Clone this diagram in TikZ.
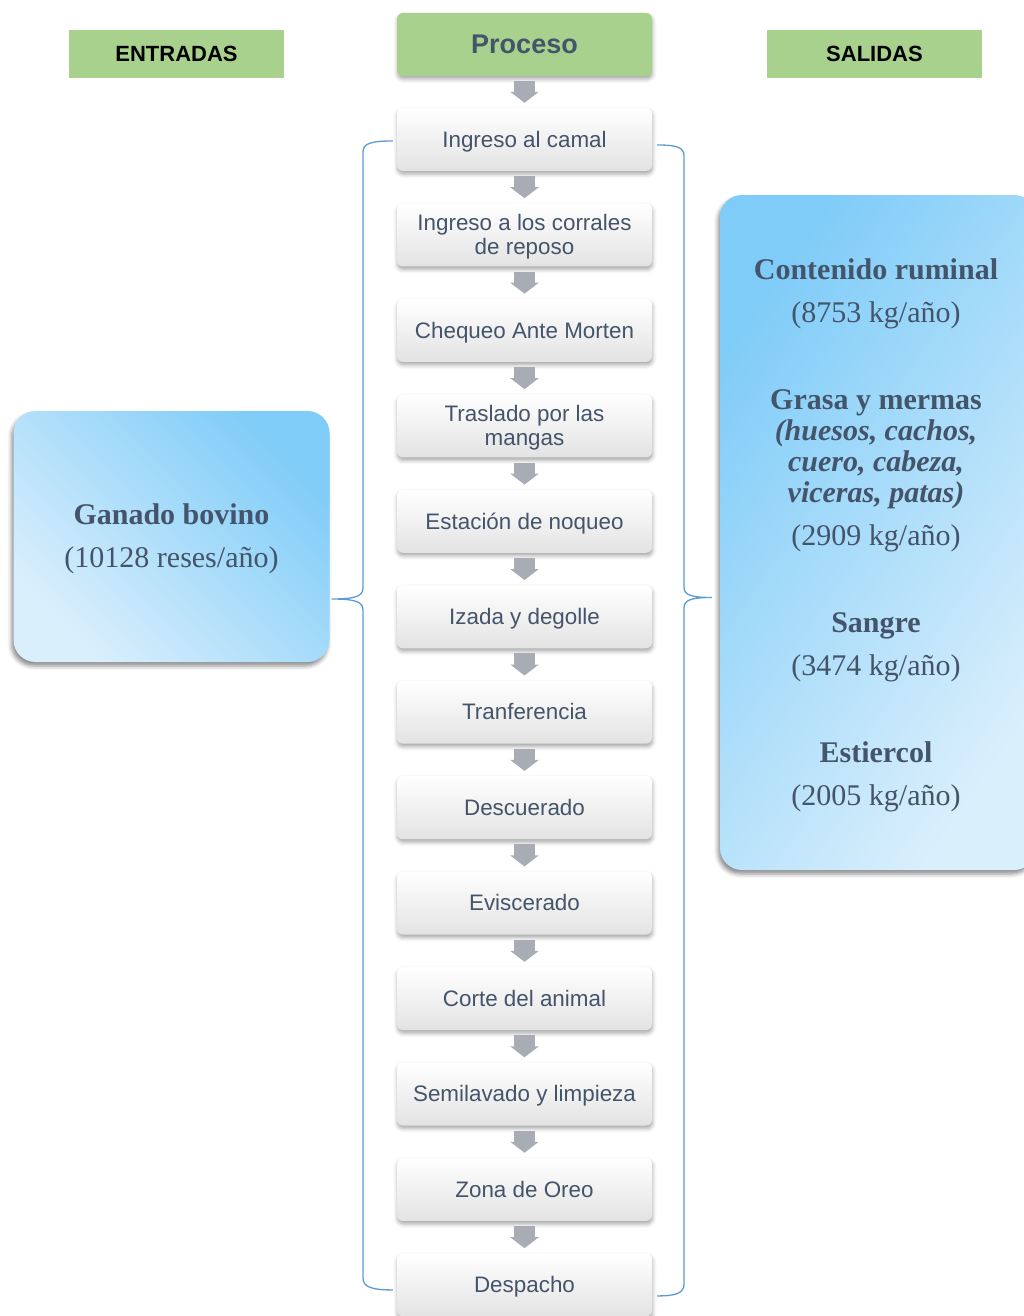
\documentclass[tikz,border=0pt]{standalone}
\usepackage{fontspec}
\setmainfont{Liberation Serif}
\setsansfont{Liberation Sans}
\usetikzlibrary{calc,arrows.meta,shadows.blur}

\definecolor{txt}{HTML}{44546A}
\definecolor{hdrgreen}{HTML}{A9D18E}
\definecolor{bracketblue}{HTML}{5B9BD5}
\definecolor{skydark}{HTML}{7FCCF8}
\definecolor{skylight}{HTML}{DAEFFC}
\definecolor{arrowgray}{HTML}{A8ACB5}

\begin{document}
\begin{tikzpicture}[x=1pt,y=-1pt,
  header/.style={fill=hdrgreen, minimum width=215pt, minimum height=48pt,
    inner sep=0pt, font=\sffamily\bfseries\fontsize{22}{24}\selectfont, text=black},
  procbox/.style={rounded corners=6pt, fill=hdrgreen, minimum width=255pt,
    minimum height=63pt, inner sep=0pt,
    font=\sffamily\bfseries\fontsize{27}{30}\selectfont, text=txt,
    blur shadow={shadow xshift=0.5pt, shadow yshift=-3pt, shadow blur radius=4pt, shadow opacity=35}},
  stage/.style={rounded corners=6pt, top color=white, middle color=white,
    bottom color=black!11, minimum width=255pt, minimum height=63pt,
    align=center, inner sep=0pt, text depth=4.6pt,
    font=\sffamily\fontsize{22.4}{23.5}\selectfont, text=txt,
    blur shadow={shadow xshift=0.5pt, shadow yshift=-3pt, shadow blur radius=4pt, shadow opacity=35}},
  bigbox/.style={rounded corners=22pt, top color=skydark, bottom color=skylight,
    minimum width=316pt, inner sep=0pt,
    blur shadow={shadow xshift=-2pt, shadow yshift=-4pt, shadow blur radius=4pt, shadow opacity=45}},
  bigtext/.style={font=\fontsize{30}{31}\selectfont, text=txt, align=center},
  flowarrow/.style={draw=arrowgray, line width=21pt, shorten <=5pt, shorten >=5pt,
    -{Triangle[length=11pt,width=28pt]}},
  bracket/.style={draw=bracketblue, line width=1.3pt}
]
\useasboundingbox (0,0) rectangle (1024,1316);

% input and output boxes
\node[bigbox, minimum height=251pt, shading angle=-45] (gb) at (171.5,536.5) {};
\node[bigtext] (gbtext) at (171.5,538.5)
  {\textbf{Ganado bovino}\\[12pt](10128 reses/año)};
\node[bigbox, minimum height=675pt, shading angle=55] (sal) at (878,532.5) {};
\node[bigtext] (saltext) at (876,535)
  {\textbf{Contenido ruminal}\\[12pt]
   (8753 kg/año)\\[56pt]
   \textbf{Grasa y mermas}\\
   \textbf{\textit{(huesos, cachos,}}\\
   \textbf{\textit{cuero, cabeza,}}\\
   \textbf{\textit{viceras, patas)}}\\[12pt]
   (2909 kg/año)\\[56pt]
   \textbf{Sangre}\\[12pt]
   (3474 kg/año)\\[56pt]
   \textbf{Estiercol}\\[12pt]
   (2005 kg/año)};

% column headers
\node[header] (entradas) at (176.5,54) {ENTRADAS};
\node[header] (salidas) at (874.5,54) {SALIDAS};
\node[procbox] (proc) at (524.5,44.5) {Proceso};

% process stages (second field: text height, so the lines sit centred)
\foreach \t/\th [count=\i] in {Ingreso al camal/20pt,
    {Ingreso a los corrales\\de reposo}/43.5pt,
    Chequeo Ante Morten/20pt, {Traslado por las\\mangas}/43.5pt,
    Estación de noqueo/20pt, Izada y degolle/20pt, Tranferencia/20pt,
    Descuerado/20pt, Eviscerado/20pt, Corte del animal/20pt,
    Semilavado y limpieza/20pt, Zona de Oreo/20pt, Despacho/20pt}
  \node[stage, text height=\th] (p\i) at (524.5,{139.5+95.45*(\i-1)}) {\t};

% flow arrows
\draw[flowarrow] (proc.south) -- (p1.north);
\foreach \i [evaluate=\i as \j using int(\i+1)] in {1,...,12}
  \draw[flowarrow] (p\i.south) -- (p\j.north);

% brackets joining inputs and outputs to the process column
\coordinate (lt) at ($(p1.west)+(-4,1.5)$);
\coordinate (lb) at ($(p13.west)+(-4,5)$);
\coordinate (ltip) at ($(gb.east)+(2,62.5)$);
\coordinate (rt) at ($(p1.east)+(5,5.5)$);
\coordinate (rb) at ($(p13.east)+(5,11)$);
\coordinate (rtip) at ($(sal.west)+(-8,65)$);

\draw[bracket] (lt) .. controls (372,141) and (363,143) .. (363,152)
  -- (363,588) .. controls (363,596) and (356,599) .. (ltip)
  .. controls (356,599) and (363,602) .. (363,610)
  -- (363,1278) .. controls (363,1287) and (372,1290) .. (lb);
\draw[bracket] (rt) .. controls (676,145) and (684,147) .. (684,156)
  -- (684,587) .. controls (684,595) and (691,597.5) .. (rtip)
  .. controls (691,597.5) and (684,600) .. (684,608)
  -- (684,1284) .. controls (684,1293) and (676,1296) .. (rb);
\end{tikzpicture}
\end{document}
